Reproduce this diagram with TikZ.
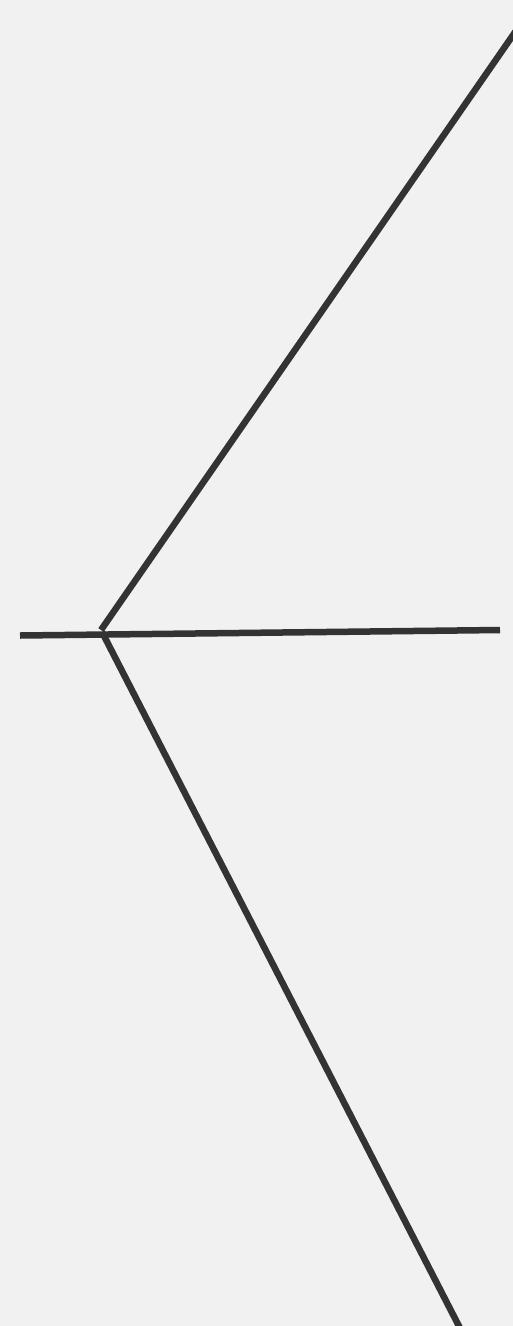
\documentclass[tikz,border=0pt]{standalone}
\definecolor{bg}{HTML}{F1F1F1}
\definecolor{ln}{HTML}{333333}
\tikzset{stroke/.style={draw=ln,line width=6.5pt}}
\begin{document}
\begin{tikzpicture}[x=1pt,y=-1pt]
\fill[bg] (0,0) rectangle (513,1326);
\useasboundingbox (0,0) rectangle (513,1326);
\coordinate (apex) at (101,630);
\coordinate (top) at (520,25);
\coordinate (hl) at (20,635.5);
\coordinate (hr) at (500,630);
\coordinate (bot) at (462,1332);
\begin{scope}
\clip (0,0) rectangle (513,1326);
\draw[stroke] (apex) -- (top);
\draw[stroke] (hl) -- (hr);
\draw[stroke] (102,632) -- (bot);
\end{scope}
\end{tikzpicture}
\end{document}
